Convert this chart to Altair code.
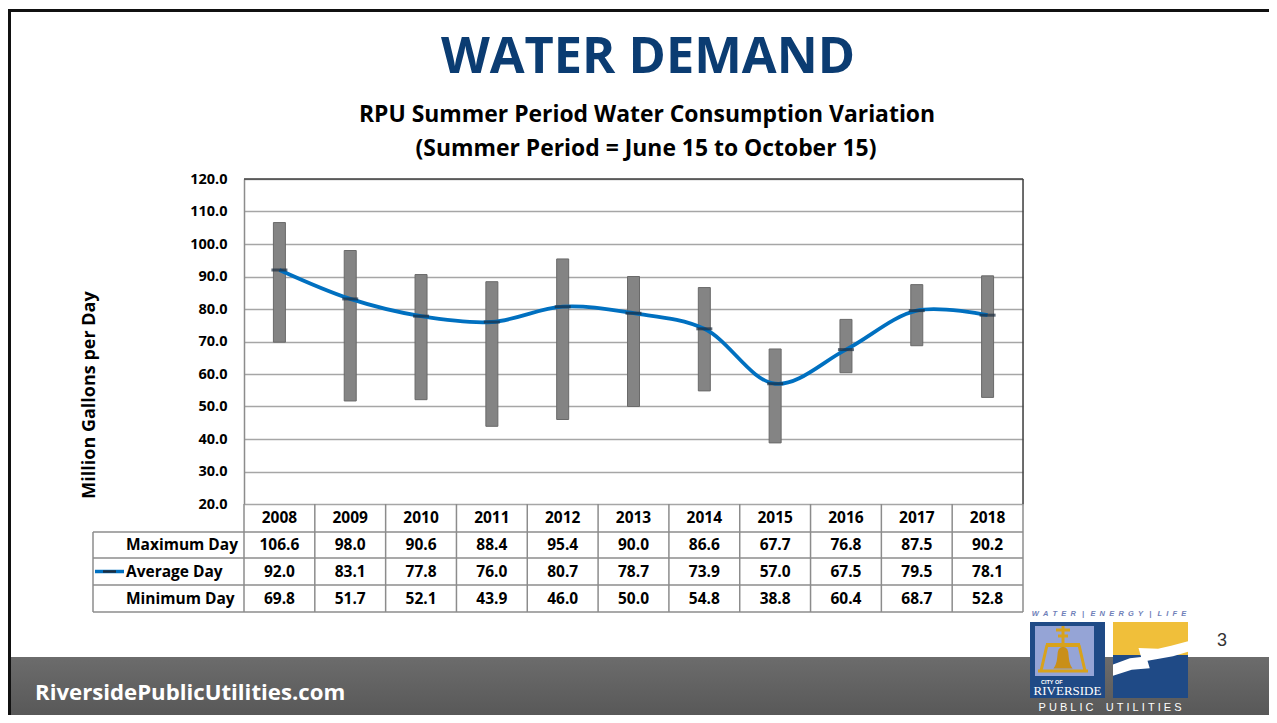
import altair as alt
import pandas as pd

years = [2008, 2009, 2010, 2011, 2012, 2013, 2014, 2015, 2016, 2017, 2018]
max_day = [106.6, 98.0, 90.6, 88.4, 95.4, 90.0, 86.6, 67.7, 76.8, 87.5, 90.2]
avg_day = [92.0, 83.1, 77.8, 76.0, 80.7, 78.7, 73.9, 57.0, 67.5, 79.5, 78.1]
min_day = [69.8, 51.7, 52.1, 43.9, 46.0, 50.0, 54.8, 38.8, 60.4, 68.7, 52.8]
row_labels = ["Maximum Day", "Average Day", "Minimum Day"]
y_ticks = [20, 30, 40, 50, 60, 70, 80, 90, 100, 110, 120]

title_text = "WATER DEMAND"
subtitle1 = "RPU Summer Period Water Consumption Variation"
subtitle2 = "(Summer Period = June 15 to October 15)"
y_title = "Million Gallons per Day"
footer_text = "RiversidePublicUtilities.com"
page_no = "3"

df = pd.DataFrame({"year": years, "max": max_day, "avg": avg_day, "min": min_day})
one = pd.DataFrame({"k": [0]})

W, H = 779, 325
FONT = "Open Sans"
BLUE = "#0070c0"
GRID = "#a6a6a6"
TBL = "#8c8c8c"
NB = "\u00a0"

xscale = alt.Scale(type="band", paddingInner=0, paddingOuter=0)
X = alt.X("year:O", scale=xscale, axis=None, bandPosition=0.5)
X0 = alt.X("year:O", scale=xscale, axis=None, bandPosition=0)
yscale = alt.Scale(domain=[20, 120], nice=False, zero=False)
yaxis = alt.Axis(values=y_ticks, format=".1f", grid=True, gridColor=GRID, gridWidth=1.3,
                 domainColor="#8c8c8c", domainWidth=1.5, ticks=False, labelPadding=17,
                 labelOverlap=False, tickCount=11,
                 labelFont=FONT, labelFontWeight="bold", labelFontSize=14.5, labelColor="#000")

base = alt.Chart(df)

bars = base.mark_bar(size=12, fill="#848484", stroke="#6a6a6a", strokeWidth=1).encode(
    x=alt.X("year:O", scale=xscale, axis=None),
    y=alt.Y("min:Q", scale=yscale, title=None, axis=yaxis),
    y2="max:Q",
)

line = base.mark_line(color=BLUE, strokeWidth=3.8, interpolate="catmull-rom").encode(
    x=X, y=alt.Y("avg:Q", scale=yscale, title=None, axis=yaxis)
)
ticks = base.mark_tick(color="#1c2e40", thickness=3, size=16, orient="horizontal").encode(
    x=X, y=alt.Y("avg:Q", scale=yscale, title=None, axis=yaxis)
)

layers = [bars, line, ticks]


def rule(x, x2, y, y2, color, w):
    return alt.Chart(one).mark_rule(color=color, strokeWidth=w).encode(
        x=alt.value(x), x2=alt.value(x2), y=alt.value(y), y2=alt.value(y2))


def text(t, x, y, size, color="#000", weight="bold", align="center", font=FONT, angle=0,
         baseline="middle", style="normal"):
    return alt.Chart(one).mark_text(text=t, fontSize=size, color=color, fontWeight=weight, align=align,
                                    font=font, angle=angle, baseline=baseline, fontStyle=style).encode(
        x=alt.value(x), y=alt.value(y))


def rect(x, x2, y, y2, color):
    return alt.Chart(one).mark_rect(color=color).encode(
        x=alt.value(x), x2=alt.value(x2), y=alt.value(y), y2=alt.value(y2))


# plot frame: top and right dark edges
layers.append(rule(0, W, 0, 0, "#404040", 1.5))
layers.append(rule(W, W, 0, H, "#404040", 1.5))

# table lines
for yy in [353, 379, 406, 433]:
    layers.append(rule(-151, W, yy, yy, TBL, 1.5))
layers.append(rule(-151, -151, 353, 433, TBL, 1.5))
layers.append(rule(W, W, H, 433, TBL, 1.5))
layers.append(base.mark_rule(color=TBL, strokeWidth=1.5).encode(
    x=X0, y=alt.value(H), y2=alt.value(433)))

# table text
layers.append(base.mark_text(font=FONT, fontWeight="bold", fontSize=15.5, color="#000").encode(
    x=X, y=alt.value(339), text="year:O"))
for fld, yy in [("max", 366), ("avg", 392.5), ("min", 419.5)]:
    layers.append(base.mark_text(font=FONT, fontWeight="bold", fontSize=15.5, color="#000").encode(
        x=X, y=alt.value(yy), text=alt.Text(f"{fld}:Q", format=".1f")))
for lab, yy in zip(row_labels, [366, 392.5, 419.5]):
    layers.append(text(lab, -118, yy, 15.5, align="left"))
# legend key
layers.append(rule(-149, -120, 392.5, 392.5, BLUE, 3.5))
layers.append(rule(-141, -128, 392.5, 392.5, "#1c2e40", 2.5))

# y title
layers.append(text(y_title, -154, 216, 18, angle=270))

# titles
layers.append(text(title_text, 404, -121, 50.5, color="#0b3c72", font="Open Sans", weight="bold"))
layers.append(text(subtitle1, 403, -64, 22.9))
layers.append(text(subtitle2, 402, -30, 22.9))

# footer
layers.append(alt.Chart(one).mark_rect(color=alt.Gradient(
    gradient="linear", x1=0, y1=0, x2=0, y2=1,
    stops=[alt.GradientStop(color="#6c6c6c", offset=0), alt.GradientStop(color="#575757", offset=1)]
)).encode(x=alt.value(-233), x2=alt.value(1025), y=alt.value(478), y2=alt.value(540)))
layers.append(text(footer_text, -209, 514, 22.2, color="#ffffff", align="left", font="Open Sans"))

# slide border
layers.append(rule(-234.5, -234.5, -170, 540, "#111111", 3))
layers.append(rule(-236, 1025, -168.5, -168.5, "#111111", 3))

# page number
layers.append(text(page_no, 978, 462, 18, color="#333333", weight="normal", font="Liberation Sans"))

# logo (decorative)
layers.append(rect(786, 861, 443, 519, "#1f4a86"))
layers.append(rect(791, 850, 447, 497, "#95a4d6"))
gold = "#d8a21c"
layers.append(rule(819, 819, 447, 466, gold, 3))
layers.append(rule(812, 826, 451, 451, gold, 3))
layers.append(rule(814, 824, 457, 457, gold, 3))
layers.append(rule(802, 836, 466, 466, gold, 4))
layers.append(rule(803, 797, 466, 492, gold, 3))
layers.append(rule(835, 841, 466, 492, gold, 3))
layers.append(rule(794, 844, 492, 492, gold, 3))
layers.append(alt.Chart(one).mark_point(
    shape="M -0.75 0.9 L 0.75 0.9 Q 0.5 0.6 0.45 0 Q 0.45 -0.8 0 -0.8 Q -0.45 -0.8 -0.45 0 Q -0.5 0.6 -0.75 0.9 Z",
    filled=True, fill="#c98f18", opacity=1, size=650, strokeWidth=0).encode(
    x=alt.value(819), y=alt.value(478)))
layers.append(text("CITY OF", 797, 503, 5.5, color="#ffffff", align="left", font="Liberation Sans"))
layers.append(text("RIVERSIDE", 823.5, 512, 13, color="#ffffff", weight="normal", font="Liberation Serif"))
layers.append(rect(869, 944, 443, 519, "#f0bf3a"))
layers.append(rect(869, 944, 476, 519, "#1f4a86"))
layers.append(alt.Chart(one).mark_point(
    shape="M -1 0.12 L -0.55 -0.05 L -0.25 -0.08 L -0.32 -0.32 L 0.2 -0.3 L 0.55 -0.38 L 1 -0.5 L 1 -0.22 L 0.6 -0.1 L 0.15 -0.02 L -0.08 0.02 L -0.02 0.22 L -0.5 0.26 L -1 0.42 Z",
    filled=True, fill="#ffffff", opacity=1, size=5625, strokeWidth=0).encode(
    x=alt.value(906.5), y=alt.value(481)))
logo_top = (NB * 3).join([(NB * 2).join("WATER"), "|", (NB * 2).join("ENERGY"), "|", (NB * 2).join("LIFE")])
logo_bottom = (NB * 4).join([NB.join("PUBLIC"), NB.join("UTILITIES")])
layers.append(text(logo_top, 865, 435, 7.5, color="#6f80b8", font="Liberation Sans", style="italic"))
layers.append(text(logo_bottom, 866, 529, 11, color="#ffffff", weight="normal", font="Liberation Sans"))

chart = alt.layer(*layers).properties(
    width=W, height=H,
    padding={"left": 236, "top": 171, "right": 246, "bottom": 211},
    autosize="none",
).configure_view(stroke=None).configure(background="#ffffff")

chart.save("out.html", embed_options={"renderer": "svg", "actions": False})
